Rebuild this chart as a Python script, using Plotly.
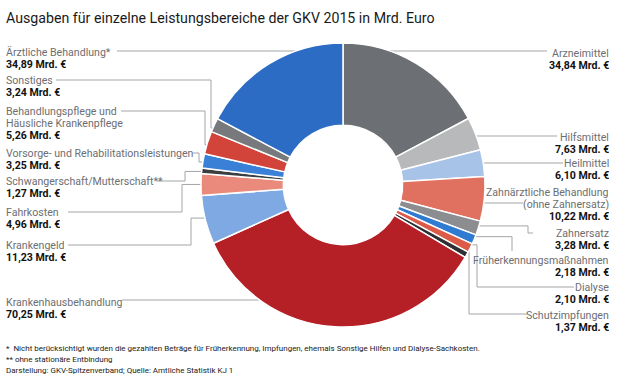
import math
import plotly.graph_objects as go

# ---------------- data ----------------
categories = [
    "Arzneimittel", "Hilfsmittel", "Heilmittel",
    "Zahnärztliche Behandlung\n(ohne Zahnersatz)", "Zahnersatz",
    "Früherkennungsmaßnahmen", "Dialyse", "Schutzimpfungen",
    "Krankenhausbehandlung", "Krankengeld", "Fahrkosten",
    "Schwangerschaft/Mutterschaft**", "Vorsorge- und Rehabilitationsleistungen",
    "Behandlungspflege und\nHäusliche Krankenpflege", "Sonstiges",
    "Ärztliche Behandlung*",
]
values = [34.84, 7.63, 6.10, 10.22, 3.28, 2.18, 2.10, 1.37,
          70.25, 11.23, 4.96, 1.27, 3.25, 5.26, 3.24, 34.89]

title_text = "Ausgaben für einzelne Leistungsbereiche der GKV 2015 in Mrd. Euro"
footnotes = [
    "*  Nicht berücksichtigt wurden die gezahlten Beträge für Früherkennung, Impfungen, ehemals Sonstige Hilfen und Dialyse-Sachkosten.",
    "** ohne stationäre Entbindung",
    "Darstellung: GKV-Spitzenverband; Quelle: Amtliche Statistik KJ 1",
]

# ---------------- style ----------------
colors = ["#6c6f73", "#b8b9bb", "#a8c3e8", "#e0705f", "#8b8d90", "#2f7bd2",
          "#dc5a48", "#2e3033", "#b51f26", "#7ea9e2", "#e98a7c", "#3b3e41",
          "#3a80d6", "#d2443a", "#77797c", "#2c6cc5"]

W, H = 620, 384
CX, CY, R = 343, 185, 142
HOLE = 0.42
FONT = "Roboto, sans-serif"
LABEL_SIZE = 10.6
LINE_STEP = 12
NAME_COL = "#6d6e71"
VAL_COL = "#111111"
LINE_COL = "#a3a5a8"

# label layout: side, first text line y, line spec
# kind 'straight': (line_y, x_text_end)
# kind 'elbow': (x_start, y_start, x_elbow)
label_layout = [
    ("R", 53, ("straight", 51, 547)),
    ("R", 137, ("straight", 136, 557)),
    ("R", 163, ("straight", 163, 563)),
    ("R", 192, ("straight", 203, 523)),
    ("R", 233, ("elbow", 533, 233, 528)),
    ("R", 260, ("elbow", 512, 251, 512)),
    ("R", 287, ("elbow", 574, 287, 477)),
    ("R", 315, ("elbow", 527, 314, 469)),
    ("L", 302, ("straight", 300, 122)),
    ("L", 245, ("elbow", 68, 245, 191)),
    ("L", 212, ("elbow", 68, 212, 182)),
    ("L", 181, ("elbow", 157, 181, 185)),
    ("L", 153, ("elbow", 193, 153, 199)),
    ("L", 111, ("elbow", 121, 111, 205)),
    ("L", 80, ("elbow", 56, 80, 211)),
    ("L", 52, ("straight", 51, 117)),
]


def px(x):
    return x / W


def py(y):
    return 1 - y / H


fig = go.Figure()
fig.add_trace(go.Pie(
    labels=[c.replace("\n", " ") for c in categories],
    values=values,
    sort=False,
    direction="clockwise",
    rotation=0,
    hole=HOLE,
    marker=dict(colors=colors, line=dict(color="white", width=1.5)),
    textinfo="none",
    hoverinfo="label+value",
    showlegend=False,
    domain=dict(x=[px(CX - R), px(CX + R)], y=[py(CY + R), py(CY - R)]),
))

annotations = []
shapes = []


def add_text(x, y, text, anchor, color, size=LABEL_SIZE, bold=False, box_h=None):
    a = dict(
        x=px(x), y=py(y), xref="paper", yref="paper",
        text=f"<b>{text}</b>" if bold else text,
        showarrow=False, xanchor=anchor, yanchor="middle",
        borderpad=0,
        font=dict(family=FONT, size=size, color=color),
    )
    if box_h:
        a["height"] = box_h
    annotations.append(a)


def seg(x0, y0, x1, y1):
    shapes.append(dict(type="line", xref="paper", yref="paper",
                       x0=px(x0), y0=py(y0), x1=px(x1), y1=py(y1),
                       line=dict(color=LINE_COL, width=1), layer="below"))


total = sum(values)
cum = 0.0
R_in = R * HOLE
for cat, val, (side, ty, spec) in zip(categories, values, label_layout):
    mid = (cum + val / 2) / total * 2 * math.pi
    cum += val
    ax = CX + 0.95 * R * math.sin(mid)
    ay = CY - 0.95 * R * math.cos(mid)

    # text
    tx = 610 if side == "R" else 5
    anchor = "right" if side == "R" else "left"
    y = ty
    for ln in cat.split("\n"):
        add_text(tx, y, ln, anchor, NAME_COL, box_h=LINE_STEP)
        y += LINE_STEP
    add_text(tx, y, f"{val:.2f}".replace(".", ",") + " Mrd. €", anchor, VAL_COL,
             bold=True, box_h=LINE_STEP)

    # leader line
    if spec[0] == "straight":
        _, ly, xt = spec
        dy = ly - CY
        rt = (R_in + R) / 2
        dx = math.sqrt(max(rt * rt - dy * dy, 0))
        xe = CX + dx if side == "R" else CX - dx
        seg(xt, ly, xe, ly)
    else:
        _, xs, ys, xel = spec
        seg(xs, ys, xel, ys)
        seg(xel, ys, xel, ay)
        seg(xel, ay, ax, ay)

add_text(5, 18, title_text, "left", "#1a1a1a", size=14.2)
for i, f in enumerate(footnotes):
    add_text(5, 348 + i * 11, f, "left", "#1a1a1a", size=8, box_h=11)

fig.update_layout(
    width=W, height=H,
    margin=dict(l=0, r=0, t=0, b=0),
    paper_bgcolor="white", plot_bgcolor="white",
    annotations=annotations, shapes=shapes,
    showlegend=False,
)
fig.write_html("out.html",
               config={"displayModeBar": False},
               post_script="document.body.style.margin='0';document.body.style.padding='0';")
